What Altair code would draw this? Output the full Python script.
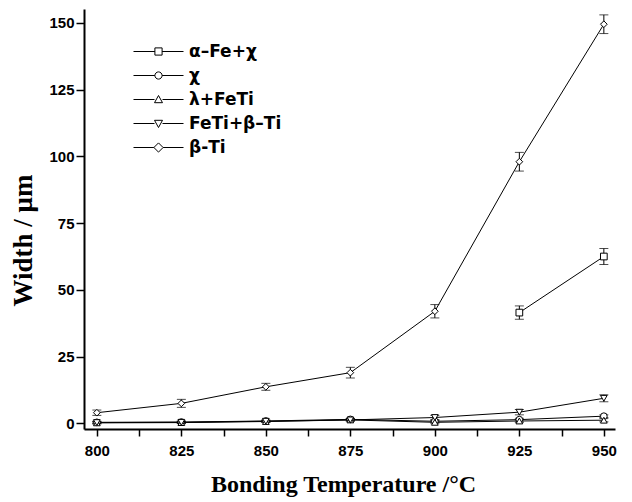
import altair as alt
import pandas as pd

temps = [800, 825, 850, 875, 900, 925, 950]
series_names = ["α–Fe+χ", "χ", "λ+FeTi", "FeTi+β–Ti", "β-Ti"]

alpha_fe_chi = [None, None, None, None, None, 41.5, 62.5]
alpha_fe_chi_err = [None, None, None, None, None, 2.5, 3.0]
chi = [0.4, 0.5, 0.9, 1.5, 0.8, 1.4, 2.7]
chi_err = [0.3, 0.3, 0.3, 0.4, 0.4, 0.5, 0.5]
lambda_feti = [0.2, 0.3, 0.7, 1.3, 0.4, 0.9, 1.2]
lambda_feti_err = [0.3, 0.3, 0.3, 0.4, 0.5, 0.6, 0.6]
feti_beta_ti = [0.3, 0.4, 0.8, 1.3, 2.2, 4.2, 9.4]
feti_beta_ti_err = [0.5, 0.5, 0.4, 0.5, 0.8, 1.0, 1.3]
beta_ti = [4.0, 7.5, 13.7, 19.0, 42.0, 98.0, 149.5]
beta_ti_err = [1.0, 1.5, 1.3, 2.0, 2.5, 3.5, 3.5]

values = [alpha_fe_chi, chi, lambda_feti, feti_beta_ti, beta_ti]
errors = [alpha_fe_chi_err, chi_err, lambda_feti_err, feti_beta_ti_err, beta_ti_err]

rows = []
for name, vals, errs in zip(series_names, values, errors):
    for t, v, e in zip(temps, vals, errs):
        if v is None:
            continue
        rows.append({"series": name, "T": t, "W": v, "lo": v - e, "hi": v + e})
df = pd.DataFrame(rows)

point_shapes = ["square", "circle", "triangle-up", "triangle-down", "diamond"]
legend_shapes = [
    "M-6.25,0L-0.9,0M0.9,0L6.25,0M-0.9,-0.9L0.9,-0.9L0.9,0.9L-0.9,0.9Z",
    "M-6.25,0L-0.9,0M0.9,0L6.25,0M-0.9,0A0.9,0.9,0,1,0,0.9,0A0.9,0.9,0,1,0,-0.9,0Z",
    "M-6.25,0L-1,0M1,0L6.25,0M-1,0.8L0,-1L1,0.8Z",
    "M-6.25,0L-1,0M1,0L6.25,0M-1,-0.8L0,1L1,-0.8Z",
    "M-6.25,0L-1.15,0M1.15,0L6.25,0M-1.15,0L0,-1.15L1.15,0L0,1.15Z",
]

x_ticks = [800 + 12.5 * i for i in range(13)]
y_ticks = [12.5 * i for i in range(13)]

xenc = alt.X(
    "T:Q",
    scale=alt.Scale(domain=[796.2, 953.3], nice=False, zero=False),
    axis=alt.Axis(
        values=x_ticks,
        labelExpr="datum.value % 25 == 0 ? datum.label : ''",
        title="Bonding Temperature /°C",
        titleX=259,
        format="d",
    ),
)
yenc = alt.Y(
    "W:Q",
    scale=alt.Scale(domain=[-2.1, 155.2], nice=False, zero=False),
    axis=alt.Axis(
        values=y_ticks,
        labelExpr="datum.value % 25 == 0 ? datum.label : ''",
        title="Width / μm",
        titleY=231,
        format="d",
    ),
)

base = alt.Chart(df)

lines = base.mark_line(color="black", strokeWidth=1).encode(
    x=xenc, y=yenc, detail="series:N", order="T:Q"
)

err_rule = base.mark_rule(color="black", strokeWidth=1).encode(
    x="T:Q", y="lo:Q", y2="hi:Q"
)
cap_lo = base.mark_tick(color="black", orient="horizontal", size=9, thickness=1).encode(
    x="T:Q", y="lo:Q"
)
cap_hi = base.mark_tick(color="black", orient="horizontal", size=9, thickness=1).encode(
    x="T:Q", y="hi:Q"
)

points = base.mark_point(filled=True, fill="white", stroke="black", strokeWidth=1, size=45, opacity=1).encode(
    x="T:Q",
    y="W:Q",
    shape=alt.Shape(
        "series:N",
        scale=alt.Scale(domain=series_names, range=point_shapes),
        legend=None,
    ),
)

legend_layer = base.transform_filter("false").mark_point(
    filled=False, color="black", strokeWidth=1, opacity=1
).encode(
    x="T:Q",
    y="W:Q",
    shape=alt.Shape(
        "series:N",
        scale=alt.Scale(domain=series_names, range=legend_shapes),
        legend=alt.Legend(
            title=None,
            orient="none",
            legendX=66,
            legendY=34,
            padding=0,
            symbolSize=64,
            symbolStrokeColor="black",
            symbolFillColor="white",
            symbolStrokeWidth=1,
            symbolOpacity=1,
            labelFont="DejaVu Sans",
            labelFontWeight="bold",
            labelFontSize=17,
            labelColor="black",
            labelOffset=22,
            rowPadding=6,
        ),
    ),
)

chart = (
    alt.layer(lines, err_rule, cap_lo, cap_hi, points, legend_layer)
    .resolve_scale(shape="independent")
    .properties(
        width=531,
        height=420,
        autosize=alt.AutoSizeParams(type="none"),
        padding={"left": 84, "top": 9, "right": 17, "bottom": 73},
        background="white",
    )
    .configure_view(stroke=None)
    .configure_axis(
        grid=False,
        domainColor="black",
        domainWidth=2,
        tickColor="black",
        tickWidth=1.5,
        labelFont="Liberation Sans",
        labelFontWeight="bold",
        labelFontSize=15,
        labelColor="black",
        titleFont="Liberation Serif",
        titleFontWeight="bold",
        titleColor="black",
    )
    .configure_axisX(tickSize=7, labelPadding=7, titlePadding=14, titleFontSize=24)
    .configure_axisY(tickSize=8, labelPadding=2, titlePadding=11, titleFontSize=27)
)

chart.save("out.html", embed_options={"renderer": "svg", "actions": False})
